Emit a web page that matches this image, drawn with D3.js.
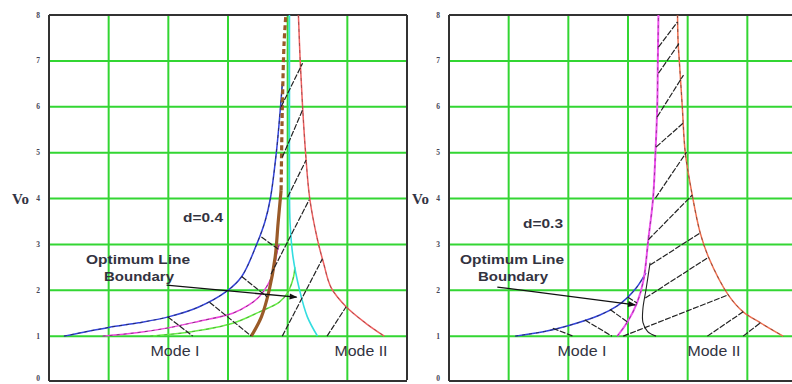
<!DOCTYPE html>
<html>
<head>
<meta charset="utf-8">
<script src="https://cdn.jsdelivr.net/npm/d3@7"></script>
<style>
  body { margin: 0; background: #fff; }
  svg { display: block; }
</style>
</head>
<body>
<svg id="chart" width="792" height="384"></svg>
<script>
// values, x in grid units (0..6), y = Vo (0..8)
const yTicks = [0, 1, 2, 3, 4, 5, 6, 7, 8];
const xGrid = [1, 2, 3, 4, 5];

// left panel, d=0.4
const leftBlue = [[0.25,1.0],[1.0,1.19],[1.5,1.29],[2.0,1.42],[2.5,1.63],[2.98,1.98],[3.23,2.3],[3.48,3.0],[3.62,3.5],[3.71,4.0],[3.81,5.0],[3.88,6.0],[3.91,6.5]];
const leftMagenta = [[0.9,1.0],[1.5,1.08],[2.0,1.18],[2.5,1.32],[3.08,1.5],[3.35,1.68],[3.53,1.87],[3.73,2.29],[3.83,2.88],[3.86,3.0]];
const leftGreen = [[1.7,1.0],[2.36,1.09],[3.08,1.28],[3.53,1.53],[3.86,1.74],[4.0,1.95],[4.1,2.3],[4.12,2.5]];
const leftBrown = [[3.39,1.0],[3.56,1.42],[3.69,2.0],[3.79,2.72],[3.84,3.47],[3.89,4.18]];
const leftBrownTop = [[3.89,4.18],[3.91,5.93],[3.94,7.39],[3.97,8.0]];
const leftCyan = [[4.03,8.0],[4.03,6.0],[4.03,4.18],[4.04,3.47],[4.09,2.72],[4.2,2.0],[4.33,1.42],[4.5,1.0]];
const leftRed = [[4.18,8.0],[4.21,7.0],[4.25,6.0],[4.3,5.0],[4.37,4.0],[4.5,3.1],[4.6,2.6],[4.73,2.05],[4.98,1.64],[5.31,1.28],[5.62,1.0]];
const leftHatch = [
  [[1.99,1.42],[2.41,1.0]], [[2.69,1.74],[3.39,1.0]], [[3.23,2.3],[3.66,1.85]], [[3.56,3.16],[3.86,2.88]],
  [[3.91,1.0],[4.58,2.68]], [[4.66,1.0],[4.98,1.64]], [[3.72,2.35],[4.36,3.97]],
  [[4.0,4.03],[4.31,4.84]], [[3.91,4.9],[4.25,5.93]], [[3.89,6.0],[4.25,6.95]]
];
const leftArrow = [[1.97,2.11],[4.15,1.85]];

// right panel, d=0.3
const rightBlue = [[1.11,1.0],[1.6,1.1],[1.98,1.22],[2.53,1.46],[2.82,1.66],[2.99,1.84],[3.15,2.07],[3.26,2.29],[3.3,2.38]];
const rightMagenta = [[2.82,1.0],[2.99,1.31],[3.15,1.72],[3.26,2.22],[3.34,3.1],[3.42,4.0],[3.46,5.0],[3.49,6.0],[3.5,7.0],[3.51,8.0]];
const rightBlack = [[3.47,1.0],[3.33,1.1],[3.25,1.3],[3.25,1.6],[3.3,2.0],[3.37,2.6]];
const rightRed = [[3.83,8.0],[3.84,7.4],[3.86,7.0],[3.91,6.0],[3.96,5.0],[4.08,4.05],[4.21,3.25],[4.35,2.72],[4.68,1.9],[4.93,1.53],[5.22,1.29],[5.6,1.0]];
const rightHatch = [
  [[1.74,1.17],[2.08,1.0]], [[2.28,1.35],[2.73,1.0]], [[2.7,1.58],[2.99,1.31]], [[3.0,1.85],[3.15,1.72]],
  [[2.92,1.0],[4.68,1.9]], [[4.33,1.0],[4.93,1.53]], [[4.93,1.0],[5.22,1.29]],
  [[3.29,1.83],[4.35,2.72]], [[3.37,2.55],[4.21,3.25]], [[3.34,3.1],[4.08,4.08]],
  [[3.46,4.01],[3.98,5.01]], [[3.47,5.12],[3.93,5.65]], [[3.49,5.78],[3.93,6.69]],
  [[3.51,6.73],[3.86,7.39]], [[3.51,7.3],[3.83,7.85]]
];
const rightArrow = [[0.81,2.07],[3.12,1.68]];

const svg = d3.select("#chart");
const y = d3.scaleLinear().domain([0, 8]).range([382, 15]);
const GREEN = "#33d633";

svg.append("defs").append("marker")
  .attr("id", "arrow").attr("viewBox", "0 0 10 10")
  .attr("refX", 9).attr("refY", 5)
  .attr("markerWidth", 7).attr("markerHeight", 6)
  .attr("orient", "auto")
  .append("path").attr("d", "M0,1 L10,5 L0,9 Z").attr("fill", "#111");

function drawPanel(x, opts) {
  const g = svg.append("g");
  const [x0, x1] = x.range();
  const xEnd = Math.min(x1, 792);
  const line = d3.line().x(d => x(d[0])).y(d => y(d[1])).curve(d3.curveCatmullRom);

  // grid
  g.selectAll(".hg").data(yTicks.filter(t => t > 0 && t < 8)).enter().append("line")
    .attr("x1", x0).attr("x2", xEnd).attr("y1", d => y(d)).attr("y2", d => y(d))
    .attr("stroke", GREEN).attr("stroke-width", 2);
  g.selectAll(".vg").data(xGrid).enter().append("line")
    .attr("x1", d => x(d)).attr("x2", d => x(d)).attr("y1", y(8)).attr("y2", y(0) - 1)
    .attr("stroke", GREEN).attr("stroke-width", 2);

  // frame
  g.append("line").attr("x1", x0).attr("x2", xEnd).attr("y1", y(8)).attr("y2", y(8))
    .attr("stroke", "#333").attr("stroke-width", 2);
  g.append("line").attr("x1", x0).attr("x2", xEnd).attr("y1", y(0) - 1).attr("y2", y(0) - 1)
    .attr("stroke", "#333").attr("stroke-width", 2);
  g.append("line").attr("x1", x0).attr("x2", x0).attr("y1", y(8)).attr("y2", y(0) - 1)
    .attr("stroke", "#333").attr("stroke-width", 2);
  if (x1 <= 792) {
    g.append("line").attr("x1", x1).attr("x2", x1).attr("y1", y(8)).attr("y2", y(0) - 2)
      .attr("stroke", "#333").attr("stroke-width", 2);
  }

  // tick labels
  g.selectAll(".yt").data(yTicks).enter().append("text")
    .attr("x", x0 - 11).attr("y", d => Math.min(y(d) + 2.5, 381))
    .attr("text-anchor", "middle")
    .attr("font-family", "Liberation Serif, serif").attr("font-weight", "bold")
    .attr("font-size", 7.5).attr("fill", "#445")
    .text(d => d);
  g.append("text").attr("x", x0 - 37).attr("y", y(4) + 5)
    .attr("font-family", "Liberation Serif, serif").attr("font-weight", "bold")
    .attr("font-size", 15).attr("fill", "#334").text("Vo");

  // curves
  const curve = (pts, color, w, dash, op) => {
    g.append("path").attr("d", line(pts)).attr("fill", "none")
      .attr("stroke", color).attr("stroke-width", w)
      .attr("stroke-dasharray", dash || null)
      .attr("stroke-opacity", op || 1);
  };
  const dashedCurve = (pts, color, op) => {
    curve(pts, color, 1.5);
    curve(pts, "#222", 0.8, "3,4", op || 0.8);
  };
  opts.curves(curve, dashedCurve);

  // hatch
  g.selectAll(".hatch").data(opts.hatch).enter().append("path")
    .attr("d", d => line(d)).attr("fill", "none")
    .attr("stroke", "#222").attr("stroke-width", 1.2)
    .attr("stroke-dasharray", "6,1.5");

  // arrow
  g.append("path").attr("d", d3.line().x(d => x(d[0])).y(d => y(d[1]))(opts.arrow))
    .attr("stroke", "#111").attr("stroke-width", 1.3).attr("fill", "none")
    .attr("marker-end", "url(#arrow)");

  // labels
  const txt = (t, px, py, size, weight, len) => g.append("text")
    .attr("x", px).attr("y", py).attr("text-anchor", "middle")
    .attr("font-family", "Liberation Sans, Arial, sans-serif")
    .attr("font-size", size).attr("font-weight", weight).attr("fill", "#33333f")
    .attr("textLength", len).attr("lengthAdjust", "spacingAndGlyphs")
    .text(t);
  txt(opts.dLabel, x0 + opts.dPos[0], opts.dPos[1], 13.5, "bold", 40);
  txt("Optimum Line", x0 + opts.optPos, 264, 13.5, "bold", 104);
  txt("Boundary", x0 + opts.optPos + 1, 281, 13.5, "bold", 70);
  txt("Mode I", x0 + opts.modeI, 356, 14, "normal", 49);
  txt("Mode II", x0 + opts.modeII, 356, 14, "normal", 53);
}

drawPanel(d3.scaleLinear().domain([0, 6]).range([49, 407]), {
  hatch: leftHatch,
  arrow: leftArrow,
  dLabel: "d=0.4", dPos: [154, 222],
  optPos: 89, modeI: 126, modeII: 312,
  curves: (curve, dashedCurve) => {
    dashedCurve(leftGreen, "#66ee44", 0.4);
    dashedCurve(leftMagenta, "#ee44dd", 0.6);
    dashedCurve(leftBlue, "#3344dd");
    curve(leftCyan, "#33dde0", 1.6);
    dashedCurve(leftRed, "#f06060", 0.45);
    curve(leftBrown, "#9a5a28", 3.2);
    curve(leftBrownTop, "#9a5a28", 3.2, "5,3");
  }
});

drawPanel(d3.scaleLinear().domain([0, 6]).range([449, 807]), {
  hatch: rightHatch,
  arrow: rightArrow,
  dLabel: "d=0.3", dPos: [94, 228],
  optPos: 63, modeI: 133, modeII: 265,
  curves: (curve, dashedCurve) => {
    dashedCurve(rightBlue, "#3344dd");
    curve(rightBlack, "#222", 1.1);
    curve(rightMagenta, "#ee55ee", 2);
    curve(rightMagenta, "#882288", 0.8, "3,4");
    dashedCurve(rightRed, "#f07050", 0.6);
  }
});
</script>
</body>
</html>
